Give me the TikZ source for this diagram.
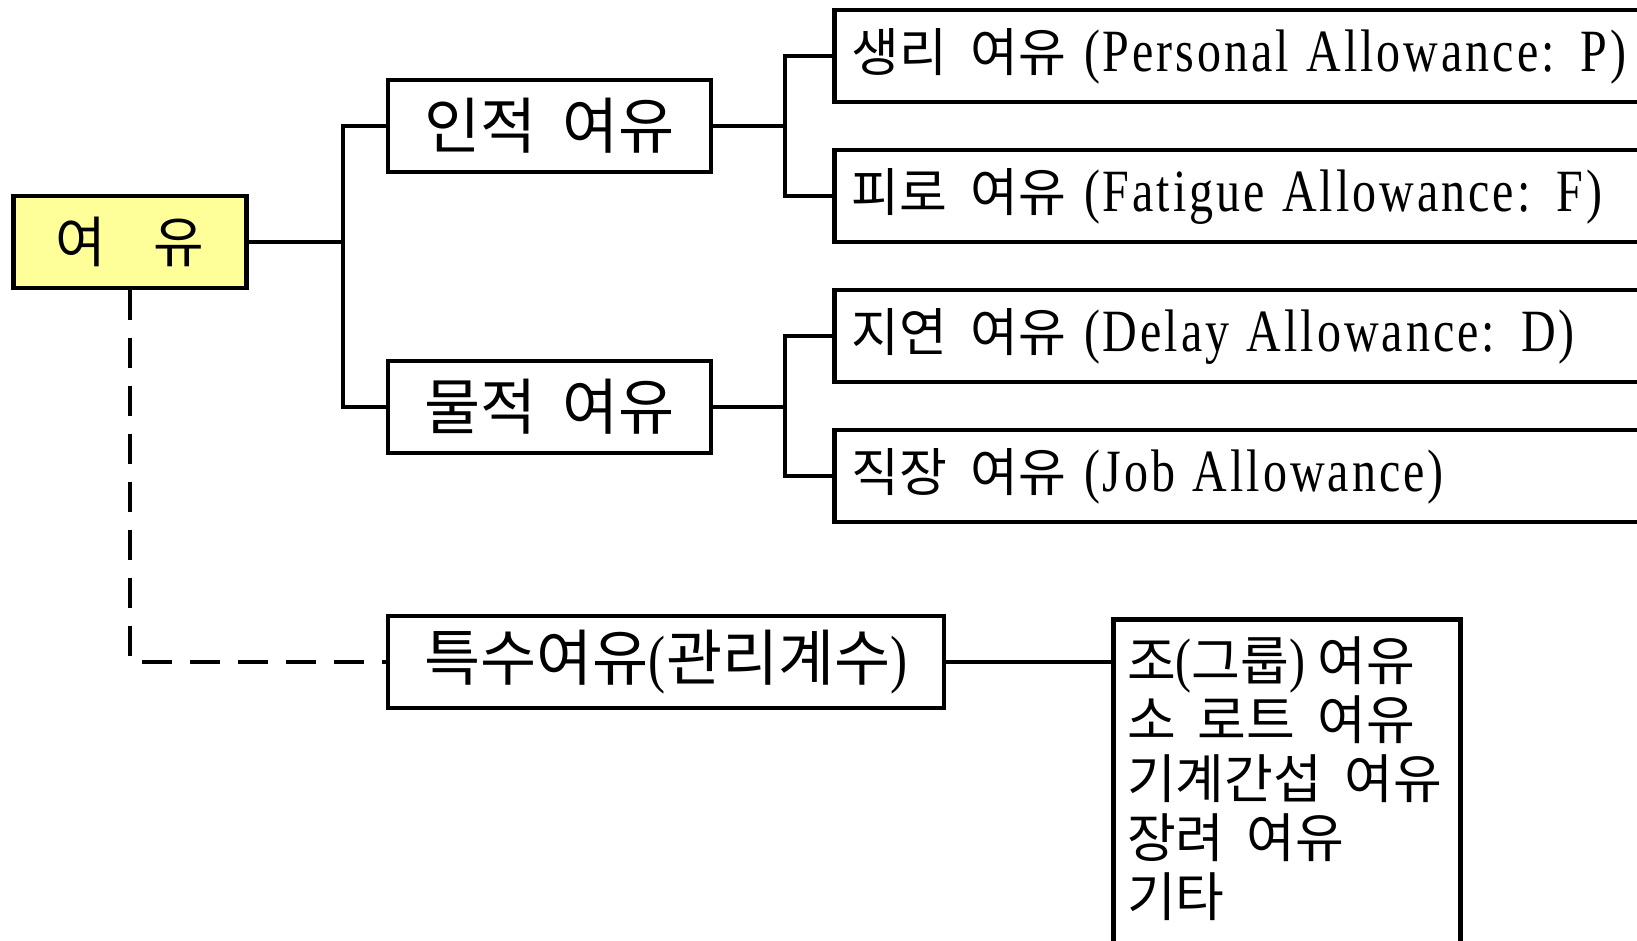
\documentclass[tikz,border=0pt]{standalone}
\usepackage{fontspec}
\setmainfont{Noto Sans CJK KR}
\newfontfamily\Lf[FakeStretch=0.8,LetterSpace=5]{Liberation Serif}
\definecolor{rooty}{RGB}{255,255,153}
\begin{document}
\begin{tikzpicture}[x=1pt,y=-1pt,
  box/.style={draw=black, line width=4.6pt, inner sep=0pt, minimum height=92pt},
  conn/.style={line width=4.4pt},
  dashconn/.style={line width=3.8pt, dash pattern=on 30pt off 18pt},
  kroot/.style={font=\fontsize{55}{58}\selectfont},
  kbig/.style={font=\fontsize{61}{64}\selectfont},
  kmid/.style={font=\fontsize{52}{56}\selectfont},
  klist/.style={font=\fontsize{53}{59}\selectfont},
  rbox/.style={box, anchor=west, minimum width=900pt, text width=866pt, align=left, inner xsep=16pt, kmid}]
\useasboundingbox (0,0) rectangle (1637,941);

\node[box, fill=rooty, minimum width=233pt, kroot] (root) at (130,242) {여\hspace{48pt}유};
\node[box, minimum width=323pt, kbig] (inj) at (549.5,126) {인적\hspace{26pt}여유};
\node[box, minimum width=323pt, kbig] (mul) at (549.5,407) {물적\hspace{26pt}여유};
\node[box, minimum width=556pt, kbig] (tuk) at (666,662) {특수여유{\Lf\fontsize{64}{64}\selectfont(}관리계수{\Lf\fontsize{64}{64}\selectfont)}};

\node[rbox] (p) at (832,56) {생리\hspace{24pt}여유 {\Lf\fontsize{60}{64}\selectfont(Personal Allowance: P)}};
\node[rbox] (f) at (832,196) {피로\hspace{24pt}여유 {\Lf\fontsize{60}{64}\selectfont(Fatigue Allowance: F)}};
\node[rbox] (d) at (832,336) {지연\hspace{24pt}여유 {\Lf\fontsize{60}{64}\selectfont(Delay Allowance: D)}};
\node[rbox] (j) at (832,476) {직장\hspace{24pt}여유 {\Lf\fontsize{60}{64}\selectfont(Job Allowance)}};

\node[box, anchor=north west, minimum width=347pt, minimum height=400pt] (list) at (1111,617) {};
\node[anchor=north west, inner sep=0pt, align=left, klist] (listtxt) at (1127,636)
  {조{\Lf\fontsize{60}{59}\selectfont(}그룹{\Lf\fontsize{60}{59}\selectfont)} 여유\\
   소\hspace{22pt}로트\hspace{22pt}여유\\
   기계간섭\hspace{22pt}여유\\
   장려\hspace{22pt}여유\\
   기타};

\coordinate (t) at (343,242);
\coordinate (u) at (785,126);
\coordinate (v) at (785,407);

\draw[conn] (root.east) -- (t);
\draw[conn] (inj.west) -| (t) |- (mul.west);
\draw[conn] (inj.east) -- (u);
\draw[conn] (p.west) -| (u) |- (f.west);
\draw[conn] (mul.east) -- (v);
\draw[conn] (d.west) -| (v) |- (j.west);
\draw[conn] (tuk.east) -- (tuk.east -| list.west);
\draw[dashconn] (root.south) |- (tuk.west);
\end{tikzpicture}
\end{document}
